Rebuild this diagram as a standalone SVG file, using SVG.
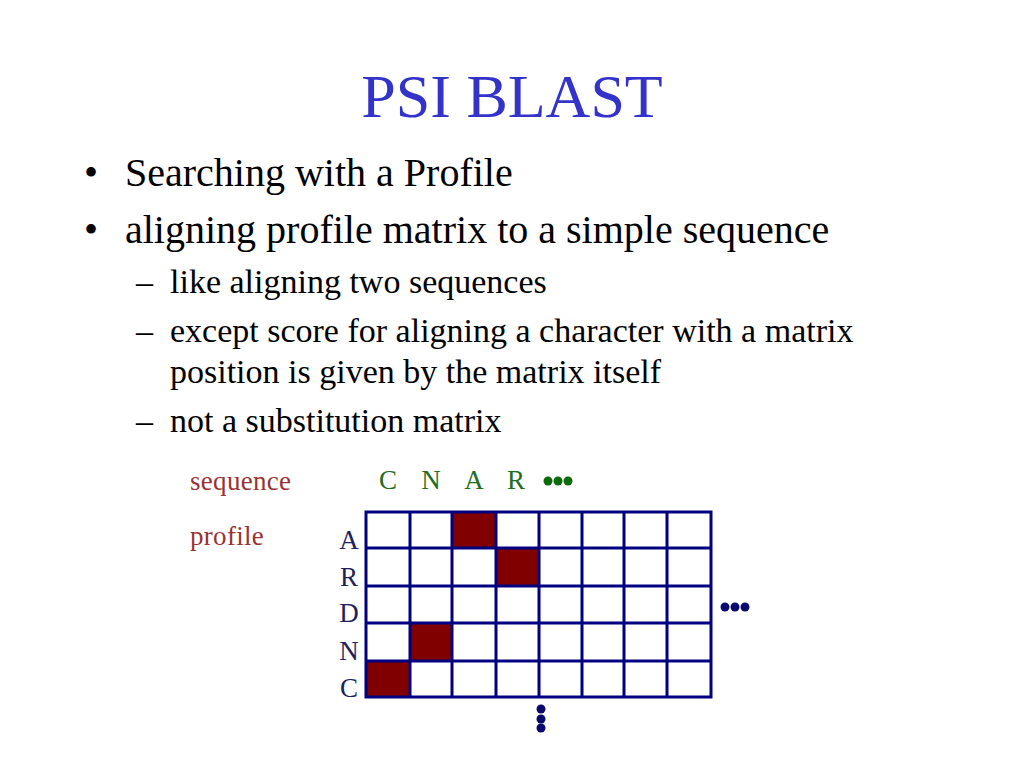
<svg xmlns="http://www.w3.org/2000/svg" width="1024" height="768" viewBox="0 0 1024 768">
<style>
.t{font-family:"Liberation Serif","Times New Roman",serif}
.title{font-size:62px;fill:#3333CC}
.b1{font-size:40px;fill:#000}
.b2{font-size:34px;fill:#000}
.lbl{font-size:27px;fill:#993333;letter-spacing:0.3px}
.seq{font-size:27px;fill:#1E6E1E}
.row{font-size:27px;fill:#1F1F5F}
.grid{stroke:#000080;stroke-width:3;fill:none}
.hit{fill:#800000}
</style>
<rect width="1024" height="768" fill="#fff"/>
<text class="t title" x="512" y="117" text-anchor="middle">PSI BLAST</text>
<g id="bullets">
<text class="t b1" x="84" y="186">•</text>
<text class="t b1" x="125" y="186">Searching with a Profile</text>
<text class="t b1" x="84" y="243">•</text>
<text class="t b1" x="125" y="243">aligning profile matrix to a simple sequence</text>
<text class="t b2" x="136" y="293">–</text>
<text class="t b2" x="170" y="293">like aligning two sequences</text>
<text class="t b2" x="136" y="342">–</text>
<text class="t b2" x="170" y="342">except score for aligning a character with a matrix</text>
<text class="t b2" x="170" y="383">position is given by the matrix itself</text>
<text class="t b2" x="136" y="432">–</text>
<text class="t b2" x="170" y="432">not a substitution matrix</text>
</g>
<g id="labels">
<text class="t lbl" x="190" y="490">sequence</text>
<text class="t lbl" x="190" y="545">profile</text>
</g>
<g id="sequence">
<text class="t seq" x="388" y="489" text-anchor="middle">C</text>
<text class="t seq" x="431" y="489" text-anchor="middle">N</text>
<text class="t seq" x="474" y="489" text-anchor="middle">A</text>
<text class="t seq" x="516" y="489" text-anchor="middle">R</text>
<circle cx="548" cy="481" r="4.5" fill="#0B6B0B"/>
<circle cx="558" cy="481" r="4.5" fill="#0B6B0B"/>
<circle cx="568" cy="481" r="4.5" fill="#0B6B0B"/>
</g>
<g id="rows">
<text class="t row" x="349" y="549" text-anchor="middle">A</text>
<text class="t row" x="349" y="586" text-anchor="middle">R</text>
<text class="t row" x="349" y="622" text-anchor="middle">D</text>
<text class="t row" x="349" y="660" text-anchor="middle">N</text>
<text class="t row" x="349" y="697" text-anchor="middle">C</text>
</g>
<g id="matrix">
<rect class="hit" x="452" y="512" width="44" height="36"/>
<rect class="hit" x="496" y="548" width="43" height="38"/>
<rect class="hit" x="410" y="623" width="42" height="38"/>
<rect class="hit" x="366" y="661" width="44" height="36"/>
<path class="grid" d="M366 512H711V697H366Z M366 548H711 M366 586H711 M366 623H711 M366 661H711 M410 512V697 M452 512V697 M496 512V697 M539 512V697 M582 512V697 M624 512V697 M667 512V697"/>
</g>
<g id="dots" fill="#0A0A6E">
<circle cx="725" cy="607" r="4.5"/>
<circle cx="735" cy="607" r="4.5"/>
<circle cx="745" cy="607" r="4.5"/>
<circle cx="541" cy="709" r="4.5"/>
<circle cx="541" cy="719" r="4.5"/>
<circle cx="541" cy="728" r="4.5"/>
</g>
</svg>
